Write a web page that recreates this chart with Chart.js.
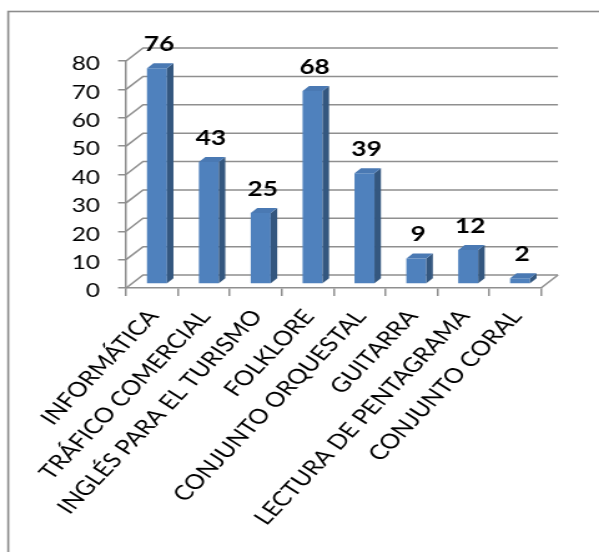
<!DOCTYPE html>
<html>
<head>
<meta charset="utf-8">
<script src="https://cdn.jsdelivr.net/npm/chart.js@4"></script>
<style>
  html, body { margin: 0; padding: 0; background: #fff; overflow: hidden; }
  /* the whole chart is drawn narrow and widened, like the wide Office fonts */
  #chart { display: block; transform: scaleX(1.248); transform-origin: 0 0; }
</style>
</head>
<body>
<canvas id="chart" width="480" height="552"></canvas>
<script>
// Alumnos inscritos por taller
const categories = [
  'INFORMÁTICA',
  'TRÁFICO COMERCIAL',
  'INGLÉS PARA EL TURISMO',
  'FOLKLORE',
  'CONJUNTO ORQUESTAL',
  'GUITARRA',
  'LECTURA DE PENTAGRAMA',
  'CONJUNTO CORAL'
];
const enrolled = [76, 43, 25, 68, 39, 9, 12, 2];
const yMin = 0;
const yMax = 80;
const yStep = 10;

// 3D look: depth of the walls and of each bar (canvas units)
const WALL_DX = 13.6, WALL_DY = -13;
const BAR_SHIFT_X = 4, BAR_SHIFT_Y = -4;
const BAR_DX = 5.2, BAR_DY = -5;

const LINE = '#8f8f8f';
const FRONT = '#4f81bd';
const SIDE = '#34577f';
const TOP = '#4a79b3';

Chart.defaults.font.family = 'Lato, "Open Sans", sans-serif';
Chart.defaults.color = '#000';

const box3d = {
  id: 'box3d',
  beforeDraw(chart) {
    const ctx = chart.ctx;
    ctx.save();
    ctx.fillStyle = '#fff';
    ctx.fillRect(0, 0, chart.width, chart.height);
    // outer frame
    ctx.strokeStyle = '#8c8c8c';
    ctx.lineWidth = 1.6;
    ctx.strokeRect(6.6, 11.5, 700, 700);
    ctx.restore();
  },
  beforeDatasetsDraw(chart) {
    const { ctx, chartArea: a, scales: { y } } = chart;
    ctx.save();
    ctx.strokeStyle = LINE;
    ctx.lineWidth = 1.5;
    // back wall gridlines and the left wall diagonals
    y.ticks.forEach(t => {
      const py = y.getPixelForValue(t.value);
      ctx.beginPath();
      ctx.moveTo(a.left, py);
      ctx.lineTo(a.left + WALL_DX, py + WALL_DY);
      ctx.lineTo(a.right + WALL_DX, py + WALL_DY);
      ctx.stroke();
    });
    // right edge of the floor
    ctx.beginPath();
    ctx.moveTo(a.right, a.bottom);
    ctx.lineTo(a.right + WALL_DX, a.bottom + WALL_DY);
    ctx.stroke();
    ctx.restore();

    // bars stand a little behind the front edge
    ctx.save();
    ctx.translate(BAR_SHIFT_X, BAR_SHIFT_Y);
  },
  afterDatasetsDraw(chart) {
    const ctx = chart.ctx;
    ctx.restore();
    const values = chart.data.datasets[0].data;
    chart.getDatasetMeta(0).data.forEach((bar, i) => {
      const { x, y, base, width } = bar.getProps(['x', 'y', 'base', 'width'], true);
      const l = x - width / 2 + BAR_SHIFT_X;
      const r = x + width / 2 + BAR_SHIFT_X;
      const t = y + BAR_SHIFT_Y;
      const b = base + BAR_SHIFT_Y;

      ctx.fillStyle = SIDE;
      ctx.beginPath();
      ctx.moveTo(r, t);
      ctx.lineTo(r + BAR_DX, t + BAR_DY);
      ctx.lineTo(r + BAR_DX, b + BAR_DY);
      ctx.lineTo(r, b);
      ctx.closePath();
      ctx.fill();

      ctx.fillStyle = TOP;
      ctx.beginPath();
      ctx.moveTo(l, t);
      ctx.lineTo(l + BAR_DX, t + BAR_DY);
      ctx.lineTo(r + BAR_DX, t + BAR_DY);
      ctx.lineTo(r, t);
      ctx.closePath();
      ctx.fill();

      // value above the bar
      ctx.fillStyle = '#000';
      ctx.font = 'bold 21px Lato, "Open Sans", sans-serif';
      ctx.textAlign = 'center';
      ctx.textBaseline = 'alphabetic';
      ctx.fillText(String(values[i]), x + 5.6, t - 17);
    });
  }
};

new Chart(document.getElementById('chart'), {
  type: 'bar',
  data: {
    labels: categories,
    datasets: [{
      data: enrolled,
      backgroundColor: FRONT,
      borderWidth: 0,
      categoryPercentage: 1,
      barPercentage: 0.385
    }]
  },
  options: {
    responsive: false,
    animation: false,
    layout: { padding: { top: 61, right: 46.5, left: 0, bottom: 0 } },
    plugins: {
      legend: { display: false },
      tooltip: { enabled: false }
    },
    scales: {
      x: {
        afterFit(scale) { scale.height = 264; },
        grid: {
          drawOnChartArea: false,
          drawTicks: true,
          tickLength: 8,
          color: LINE,
          lineWidth: 1.5
        },
        border: { display: true, color: LINE, width: 1.5 },
        ticks: {
          autoSkip: false,
          minRotation: 52,
          maxRotation: 52,
          padding: 9,
          labelOffset: 1,
          font: { size: 20.5 }
        }
      },
      y: {
        min: yMin,
        max: yMax,
        afterFit(scale) { scale.width = 101; },
        grid: {
          drawOnChartArea: false,
          drawTicks: true,
          tickLength: 6.4,
          color: LINE,
          lineWidth: 1.5
        },
        border: { display: true, color: LINE, width: 1.5 },
        ticks: {
          stepSize: yStep,
          padding: 14.6,
          labelOffset: 3,
          font: { size: 19.5 }
        }
      }
    }
  },
  plugins: [box3d]
});
</script>
</body>
</html>
